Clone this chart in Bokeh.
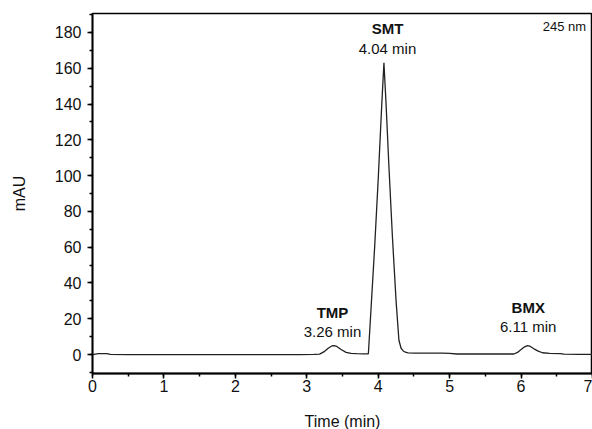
from bokeh.plotting import figure
from bokeh.models import Label, SingleIntervalTicker, Range1d
from bokeh.embed import file_html
from bokeh.resources import INLINE

# Chromatogram
time_min = [0.0, 0.08, 0.2, 0.25, 0.5, 1.0, 1.5, 2.0, 2.5, 2.9, 3.1, 3.18, 3.25, 3.3,
            3.35, 3.38, 3.42, 3.48, 3.55, 3.62, 3.7, 3.8, 3.862, 3.87, 3.9, 3.95,
            4.0, 4.05, 4.08, 4.11, 4.15, 4.2, 4.25, 4.29, 4.32, 4.35, 4.38, 4.42,
            4.5, 4.7, 4.9, 5.0, 5.1, 5.5, 5.8, 5.9, 5.95, 6.0, 6.05, 6.09, 6.13,
            6.18, 6.24, 6.3, 6.4, 6.55, 6.6, 6.8, 7.0]
mau = [0.0, 0.5, 0.5, 0.1, 0.0, 0.0, 0.0, 0.0, 0.0, 0.0, 0.1, 0.2, 1.8, 3.5,
       4.8, 5.0, 4.5, 2.8, 1.2, 0.6, 0.5, 0.4, 0.4, 5.6, 26.0, 60.0,
       98.0, 140.0, 163.0, 140.0, 105.0, 65.0, 30.0, 8.0, 3.5, 2.0, 1.3, 0.9,
       0.8, 0.8, 0.8, 0.6, 0.3, 0.3, 0.3, 0.3, 1.2, 2.8, 4.3, 5.0, 4.5,
       3.2, 1.9, 1.0, 0.6, 0.5, 0.2, 0.1, 0.1]

peak_names = ["TMP", "SMT", "BMX"]
peak_times = ["3.26 min", "4.04 min", "6.11 min"]
peak_label_x = [3.36, 4.13, 6.10]
peak_name_y = [23.5, 182.0, 26.3]
peak_time_y = [12.9, 171.0, 15.7]
wavelength = "245 nm"

FONT = "Liberation Sans"

p = figure(width=592, height=429, output_backend="svg", toolbar_location=None,
           x_range=Range1d(0, 7), y_range=Range1d(-10.6, 190.6),
           min_border_left=92, min_border_right=0, min_border_top=13, min_border_bottom=56)
p.frame_width = 500
p.frame_height = 360

p.line(time_min, mau, line_color="#222222", line_width=1.3)

p.xgrid.visible = False
p.ygrid.visible = False
p.outline_line_color = "black"
p.outline_line_width = 1.5
p.background_fill_color = "white"
p.border_fill_color = "white"

p.xaxis.ticker = SingleIntervalTicker(interval=1, num_minor_ticks=2)
p.yaxis.ticker = SingleIntervalTicker(interval=20, num_minor_ticks=2)
for ax in (p.xaxis, p.yaxis):
    ax.axis_line_color = "black"
    ax.axis_line_width = 1.8
    ax.major_tick_line_width = 1.5
    ax.minor_tick_line_width = 1.5
    ax.major_tick_in = 0
    ax.major_tick_out = 5
    ax.minor_tick_in = 0
    ax.minor_tick_out = 3
    ax.major_label_text_font = FONT
    ax.major_label_text_font_size = "16px"
    ax.major_label_text_color = "#111111"
    ax.axis_label_text_font = FONT
    ax.axis_label_text_font_size = "16px"
    ax.axis_label_text_font_style = "normal"
    ax.axis_label_text_color = "#111111"

p.xaxis.axis_label = "Time (min)"
p.yaxis.axis_label = "mAU"
p.xaxis.major_label_standoff = 1
p.yaxis.major_label_standoff = 6
p.xaxis.axis_label_standoff = 18
p.yaxis.axis_label_standoff = 24

for name, t, x, yn, yt in zip(peak_names, peak_times, peak_label_x, peak_name_y, peak_time_y):
    p.add_layout(Label(x=x, y=yn, text=name, text_font=FONT, text_font_size="15px",
                       text_font_style="bold", text_align="center", text_baseline="middle",
                       text_color="#111111"))
    p.add_layout(Label(x=x, y=yt, text=t, text_font=FONT, text_font_size="15px",
                       text_align="center", text_baseline="middle", text_color="#111111"))

p.add_layout(Label(x=6.91, y=183.3, text=wavelength, text_font=FONT, text_font_size="13px",
                   text_align="right", text_baseline="middle", text_color="#111111"))

open("out.html", "w").write(file_html(p, INLINE))
